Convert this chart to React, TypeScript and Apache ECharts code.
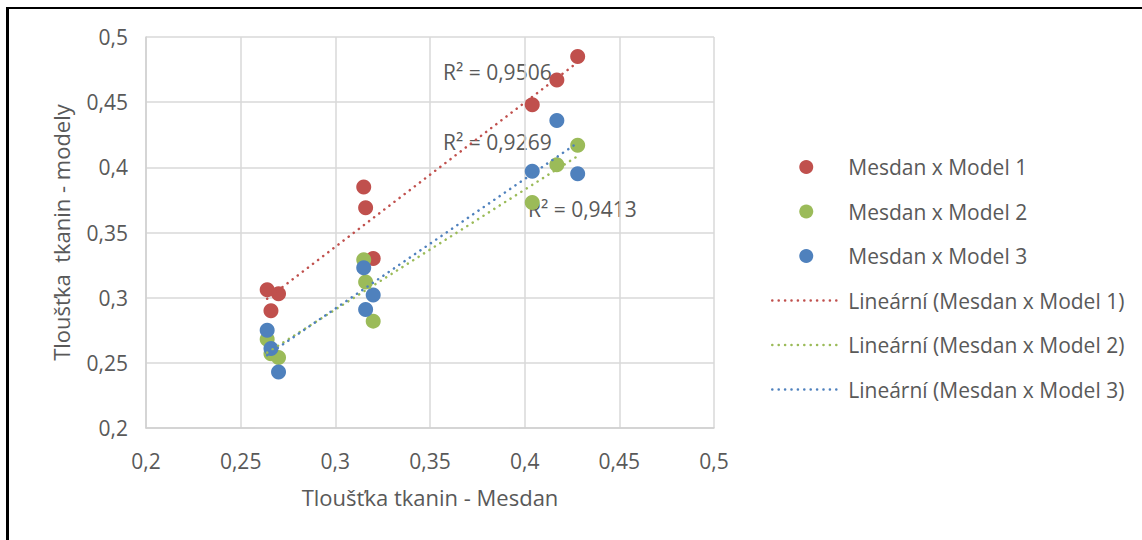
import React, { useEffect, useRef } from "react";
import * as echarts from "echarts";

const xMesdan = [0.264, 0.266, 0.27, 0.315, 0.316, 0.32, 0.404, 0.417, 0.428];
const model1 = [0.306, 0.29, 0.303, 0.385, 0.369, 0.33, 0.448, 0.467, 0.485];
const model2 = [0.268, 0.257, 0.254, 0.329, 0.312, 0.282, 0.373, 0.402, 0.417];
const model3 = [0.275, 0.261, 0.243, 0.323, 0.291, 0.302, 0.397, 0.436, 0.395];

const seriesNames = ["Mesdan x Model 1", "Mesdan x Model 2", "Mesdan x Model 3"];
const trendNames = [
  "Lineární (Mesdan x Model 1)",
  "Lineární (Mesdan x Model 2)",
  "Lineární (Mesdan x Model 3)",
];
const colors = ["#C0504D", "#9BBB59", "#4F81BD"];
const r2Labels = ["R² = 0,9506", "R² = 0,9269", "R² = 0,9413"];

const FONT = "'Open Sans', sans-serif";
const TEXT = "#595959";

function trend(xs: number[], ys: number[]) {
  const n = xs.length;
  const mx = xs.reduce((a, b) => a + b, 0) / n;
  const my = ys.reduce((a, b) => a + b, 0) / n;
  let sxy = 0;
  let sxx = 0;
  for (let i = 0; i < n; i++) {
    sxy += (xs[i] - mx) * (ys[i] - my);
    sxx += (xs[i] - mx) * (xs[i] - mx);
  }
  const b = sxy / sxx;
  const a = my - b * mx;
  const x0 = Math.min(...xs);
  const x1 = Math.max(...xs);
  return [
    [x0, a + b * x0],
    [x1, a + b * x1],
  ];
}

const dotted = { width: 2.5, type: [0.1, 6.3], cap: "round" as const };

export default function App() {
  const ref = useRef<HTMLDivElement>(null);
  useEffect(() => {
    if (!ref.current) return;
    const chart = echarts.init(ref.current, undefined, { renderer: "svg" });
    const models = [model1, model2, model3];
    const scatter = models.map((m, i) => ({
      name: seriesNames[i],
      type: "scatter",
      symbol: "circle",
      symbolSize: 15,
      itemStyle: { color: colors[i], opacity: 1 },
      data: xMesdan.map((x, j) => [x, m[j]]),
      z: 2,
    }));
    const lines = models.map((m, i) => ({
      name: trendNames[i],
      type: "line",
      symbol: "none",
      showSymbol: false,
      lineStyle: { color: colors[i], ...dotted },
      itemStyle: { color: colors[i] },
      data: trend(xMesdan, m),
      z: 3,
    }));
    const axisCommon = {
      type: "value",
      min: 0.2,
      max: 0.5,
      interval: 0.05,
      axisLine: { show: true, lineStyle: { color: "#D0D0D0", width: 1.5 } },
      axisTick: { show: false },
      splitLine: { show: true, lineStyle: { color: "#D9D9D9", width: 1.5 } },
      axisLabel: {
        color: TEXT,
        fontFamily: FONT,
        fontSize: 21,
        formatter: (v: number) => String(Math.round(v * 100) / 100).replace(".", ","),
      },
      nameLocation: "middle",
      nameTextStyle: { color: TEXT, fontFamily: FONT, fontSize: 22 },
    };
    chart.setOption({
      animation: false,
      grid: { left: 146, right: 428, top: 37, bottom: 112, containLabel: false },
      xAxis: {
        ...axisCommon,
        name: "Tloušťka tkanin - Mesdan",
        nameGap: 58,
        axisLabel: { ...axisCommon.axisLabel, margin: 22 },
      },
      yAxis: {
        ...axisCommon,
        name: "Tloušťka  tkanin - modely",
        nameGap: 74,
        axisLabel: { ...axisCommon.axisLabel, margin: 18 },
      },
      legend: {
        orient: "vertical",
        left: 766,
        top: 150,
        itemWidth: 68,
        itemHeight: 14,
        itemGap: 20.5,
        textStyle: { color: TEXT, fontFamily: FONT, fontSize: 21, lineHeight: 24, padding: [0, 0, 0, 3] },
        data: [
          ...seriesNames.map((n) => ({ name: n, icon: "circle" })),
          ...trendNames.map((n, i) => ({
            name: n,
            lineStyle: { color: colors[i], ...dotted },
            itemStyle: { opacity: 0, borderWidth: 0 },
          })),
        ],
      },
      graphic: [
        { type: "text", left: 443, top: 61, style: { text: r2Labels[0], fill: TEXT, font: `21px ${FONT}` } },
        { type: "text", left: 443, top: 131, style: { text: r2Labels[1], fill: TEXT, font: `21px ${FONT}` } },
        { type: "text", left: 528, top: 198, style: { text: r2Labels[2], fill: TEXT, font: `21px ${FONT}` } },
      ],
      series: [...scatter, ...lines],
    });
    return () => chart.dispose();
  }, []);
  return (
    <div style={{ position: "fixed", left: 0, top: 0, width: 1142, height: 540, overflow: "hidden", background: "#fff" }}>
      <div ref={ref} style={{ position: "absolute", left: 0, top: 0, width: 1142, height: 540 }} />
      <div
        style={{
          position: "absolute",
          left: 6,
          top: 7,
          width: 1300,
          height: 700,
          borderLeft: "3px solid #000",
          borderTop: "2px solid #000",
          pointerEvents: "none",
        }}
      />
    </div>
  );
}
